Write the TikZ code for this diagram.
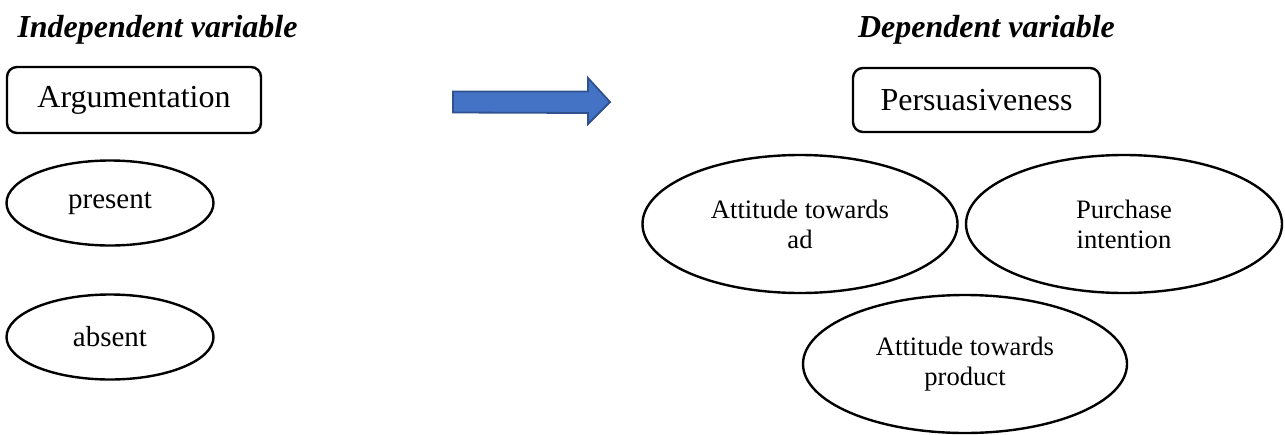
\documentclass[tikz,border=0pt]{standalone}
\usepackage{fontspec}
\setmainfont{Liberation Serif}
\usepackage{xcolor}
\usetikzlibrary{shapes,positioning,calc}

\definecolor{arrowblue}{HTML}{4472C4}
\definecolor{arrowedge}{HTML}{2F528F}

\tikzset{
  headtitle/.style={font=\fontsize{16}{19}\selectfont\bfseries\itshape, anchor=base},
  varbox/.style={draw, line width=1.2pt, rounded corners=5pt, inner sep=0pt,
    font=\fontsize{16}{19}\selectfont},
  level/.style={draw, ellipse, line width=1.2pt, inner sep=0pt,
    minimum width=103.5pt, minimum height=42.5pt, font=\fontsize{14.5}{17}\selectfont},
  measure/.style={draw, ellipse, line width=1.2pt, inner sep=0pt, align=center,
    minimum height=69pt, font=\fontsize{13.3}{15}\selectfont},
}

\begin{document}
\begin{tikzpicture}[x=0.5pt,y=-0.5pt]
    \useasboundingbox (0,0) rectangle (1285,434);

    % Titles
    \node [headtitle] (indep) at (157.5,37) {Independent variable};
    \node [headtitle] (dep) at (986.5,37) {Dependent variable};

    % Independent side
    \node [varbox, minimum width=127pt, minimum height=33pt] (arg) at (134,100) {Argumentation};
    \node [level] (present) at (110,203) {present};
    \node [level] (absent) at (110,337) {absent};

    % Dependent side
    \node [varbox, minimum width=123.5pt, minimum height=32pt] (pers) at (976.5,100) {Persuasiveness};
    \node [measure, minimum width=157.5pt] (attad) at (800,224) {Attitude towards\\ad};
    \node [measure, minimum width=158pt] (purch) at (1124,224) {Purchase\\intention};
    \node [measure, minimum width=162pt] (attprod) at (965,364) {Attitude towards\\product};

    % Block arrow
    \coordinate (tail) at (453,102);
    \draw [arrowedge, fill=arrowblue, line width=0.9pt, line join=miter]
        ($(tail)+(0,-10.5)$) -- ++(135,0) -- ++(0,-13.5) -- ++(22,24) -- ++(-22,22)
        -- ++(0,-11) -- ($(tail)+(0,10.5)$) -- cycle;
\end{tikzpicture}
\end{document}
